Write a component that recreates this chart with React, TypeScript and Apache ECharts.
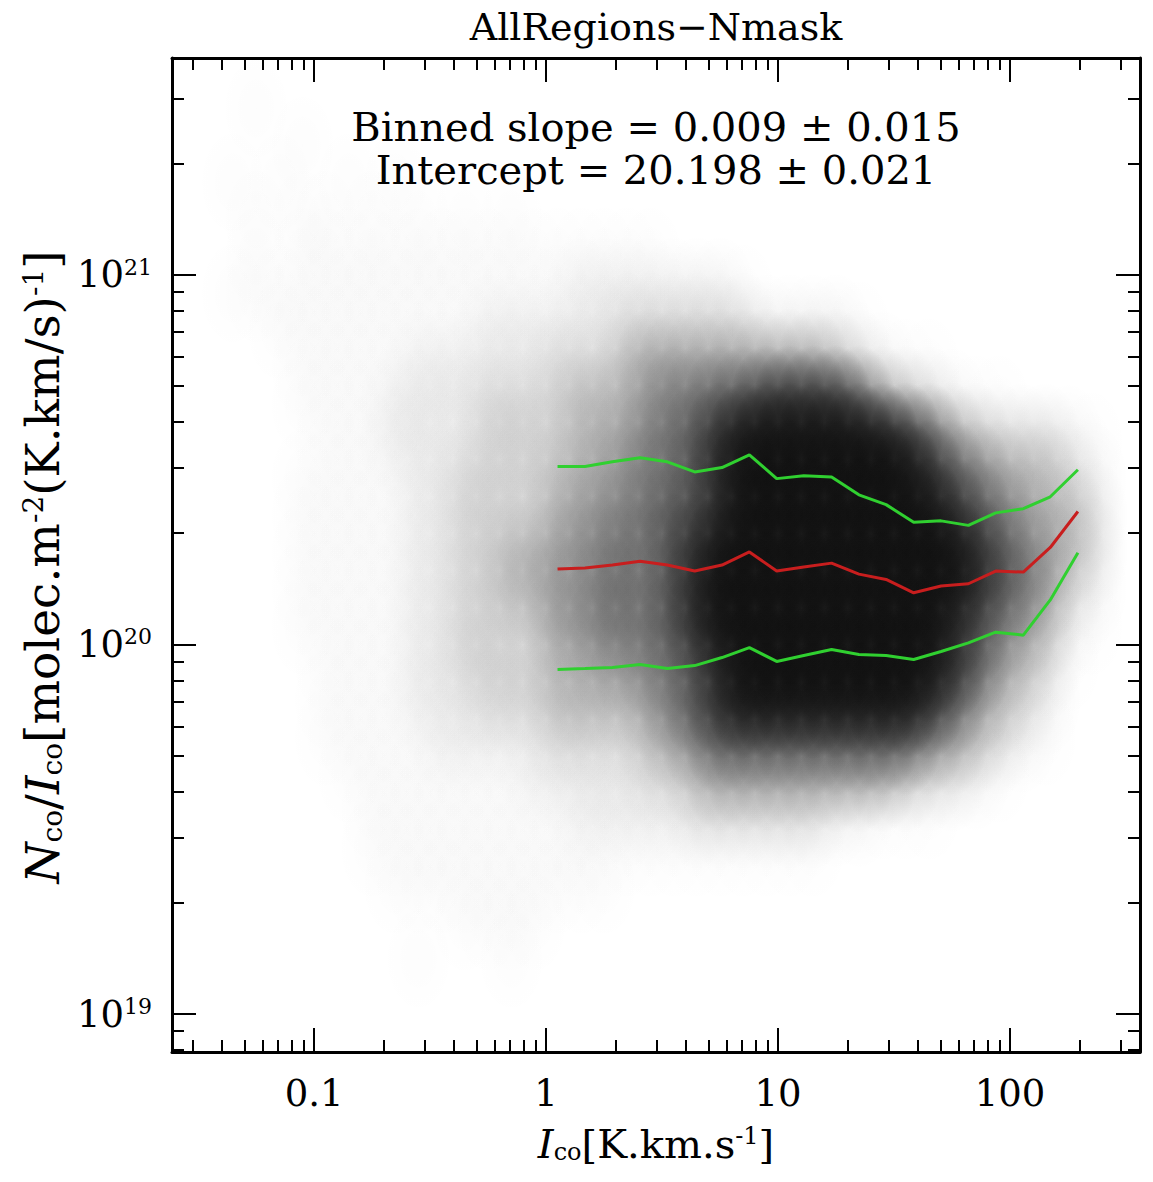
import React, { useEffect, useRef } from "react";
import * as echarts from "echarts";

// ---------- texts ----------
const chartTitle = "AllRegions−Nmask";
const fitText = ["Binned slope = 0.009 ± 0.015", "Intercept = 20.198 ± 0.021"];

// ---------- axis limits & ticks (real units) ----------
const xLimits = [0.0244, 363];
const yLimits = [7.9e18, 3.86e21];
const xMajorTicks = [0.1, 1, 10, 100];
const xMajorLabels = ["0.1", "1", "10", "100"];
const yMajorTicks = [1e19, 1e20, 1e21];
const yMajorExponents = ["19", "20", "21"];
const minorMultipliers = [2, 3, 4, 5, 6, 7, 8, 9];

// ---------- binned curves (I_co in K km/s, ratio in units of 1e20) ----------
const ratioUnit = 1e20;
const binIco = [1.12, 1.47, 1.93, 2.54, 3.33, 4.37, 5.73, 7.52, 9.86, 12.9, 17.0, 22.3, 29.2, 38.4, 50.4, 66.1, 86.7, 114, 149, 196];
const upperRatio = [3.03, 3.03, 3.12, 3.2, 3.12, 2.93, 3.01, 3.26, 2.81, 2.86, 2.84, 2.54, 2.39, 2.14, 2.16, 2.1, 2.27, 2.33, 2.51, 2.97];
const medianRatio = [1.6, 1.61, 1.64, 1.68, 1.64, 1.58, 1.64, 1.78, 1.58, 1.62, 1.66, 1.55, 1.5, 1.38, 1.44, 1.46, 1.58, 1.57, 1.83, 2.29];
const lowerRatio = [0.856, 0.861, 0.867, 0.883, 0.861, 0.877, 0.922, 0.981, 0.9, 0.934, 0.969, 0.94, 0.934, 0.911, 0.957, 1.01, 1.08, 1.06, 1.32, 1.77];

// ---------- pixel-cloud density (levels 0..9, 0.1 dex cells) ----------
const densityLogIco = [-1.55, -1.45, -1.35, -1.25, -1.15, -1.05, -0.95, -0.85, -0.75, -0.65, -0.55, -0.45, -0.35, -0.25, -0.15, -0.05, 0.05, 0.15, 0.25, 0.35, 0.45, 0.55, 0.65, 0.75, 0.85, 0.95, 1.05, 1.15, 1.25, 1.35, 1.45, 1.55, 1.65, 1.75, 1.85, 1.95, 2.05, 2.15, 2.25, 2.35, 2.45, 2.55];
const densityLogRatio = [21.55, 21.45, 21.35, 21.25, 21.15, 21.05, 20.95, 20.85, 20.75, 20.65, 20.55, 20.45, 20.35, 20.25, 20.15, 20.05, 19.95, 19.85, 19.75, 19.65, 19.55, 19.45, 19.35, 19.25, 19.15, 19.05, 18.95];
const densityRows = [
  "0000000000 0000000000 0000000000 0000000000 00",
  "0001000000 0000000000 0000000000 0000000000 00",
  "0000010000 0000000000 0000000000 0000000000 00",
  "0010100101 0000000000 0000000000 0000000000 00",
  "0001011010 1010100000 0000000000 0000000000 00",
  "0001011111 1111111111 1000000000 0000000000 00",
  "0011111111 1111111222 2222100000 0000000000 00",
  "0000111111 1112222223 3333322221 0000000000 00",
  "0000011111 2222223334 5555555543 2110000000 00",
  "0000011112 2223333444 5667788887 5432110000 00",
  "0000001112 2223333445 6678999999 9875433321 00",
  "0000011111 2233334455 6678999999 9987654432 00",
  "0000011111 2233334556 6778999999 9998765443 00",
  "0000011111 2233445566 6789999999 9999876543 00",
  "0000011111 2233445566 6789999999 9999876532 00",
  "0000011111 2233335566 6789999999 9998765421 00",
  "0000001111 2233334455 6678999999 9998754310 00",
  "0000001111 2223334444 5678999999 9987543200 00",
  "0000001111 1222223333 4567777777 7765432100 00",
  "0000000111 1111122222 3345555555 5433210000 00",
  "0000000011 1111111222 2233333322 1110000000 00",
  "0000000011 1111111111 1111111100 0000000000 00",
  "0000000001 1111111110 0000000000 0000000000 00",
  "0000000000 0011110000 0000000000 0000000000 00",
  "0000000000 1000100000 0000000000 0000000000 00",
  "0000000000 0000000000 0000000000 0000000000 00",
  "0000000000 0000000000 0000000000 0000000000 00",
];
// fraction of a cell covered by dots, per level
const levelCoverage = [0, 0.03, 0.09, 0.18, 0.3, 0.42, 0.55, 0.7, 0.84, 0.93];

const FONT = "'DejaVu Serif', 'Liberation Serif', serif";
const lg = Math.log10;

// soft kernel used to paint each density cell
const KERNEL_RADIUS = 1.6; // in cells
const kernelOffsets = [0, 0.15, 0.3, 0.45, 0.6, 0.8, 1];
const kernelShape = [1, 0.93, 0.85, 0.65, 0.45, 0.22, 0];
const KERNEL_SUM = 3.06;

function minorLogs(lo: number, hi: number, d0: number, d1: number) {
  const out: number[] = [];
  for (let d = d0; d <= d1; d++) {
    for (const m of minorMultipliers) {
      const v = d + lg(m);
      if (v > lo && v < hi) out.push(v);
    }
  }
  return out;
}

function buildOption() {
  const xMin = lg(xLimits[0]);
  const xMax = lg(xLimits[1]);
  const yMin = lg(yLimits[0]);
  const yMax = lg(yLimits[1]);
  const xMajor = xMajorTicks.map(lg);
  const yMajor = yMajorTicks.map(lg);
  const xMinor = minorLogs(xMin, xMax, -2, 2);
  const yMinor = minorLogs(yMin, yMax, 18, 21);

  const densityData: number[][] = [];
  densityRows.forEach((row, r) => {
    const s = row.replace(/\s/g, "");
    for (let c = 0; c < s.length; c++) {
      const lvl = +s[c];
      if (lvl > 0) densityData.push([densityLogIco[c], densityLogRatio[r], lvl]);
    }
  });

  const gradients = levelCoverage.map((t) => {
    const tau = -Math.log(1 - t) / KERNEL_SUM;
    return new echarts.graphic.RadialGradient(
      0.5,
      0.5,
      0.5,
      kernelOffsets.map((o, i) => ({ offset: o, color: `rgba(0,0,0,${(1 - Math.exp(-tau * kernelShape[i])).toFixed(4)})` }))
    );
  });

  const lineOf = (vals: number[]) => binIco.map((v, i) => [lg(v), lg(vals[i] * ratioUnit)]);

  const axisLine = { show: true, onZero: false, lineStyle: { color: "#000", width: 3 } };
  const noLine = { show: false, onZero: false };
  const majorTick = (vals: number[]) => ({ show: true, inside: true, length: 24, lineStyle: { color: "#000", width: 2 }, customValues: vals });
  const minorTick = (vals: number[]) => ({ show: true, inside: true, length: 12, lineStyle: { color: "#000", width: 2 }, customValues: vals });

  const xBase = { type: "value", min: xMin, max: xMax, gridIndex: 0, splitLine: { show: false }, axisLabel: { show: false }, axisPointer: { show: false } };
  const yBase = { type: "value", min: yMin, max: yMax, gridIndex: 0, splitLine: { show: false }, axisLabel: { show: false }, axisPointer: { show: false } };

  const xLabelFmt = (v: number) => {
    const i = xMajor.findIndex((t) => Math.abs(t - v) < 1e-6);
    return i >= 0 ? xMajorLabels[i] : "";
  };
  const yLabelFmt = (v: number) => {
    const i = yMajor.findIndex((t) => Math.abs(t - v) < 1e-6);
    return i >= 0 ? `{b|10}{s|${yMajorExponents[i]}}` : "";
  };

  return {
    animation: false,
    backgroundColor: "#fff",
    grid: { left: 172, right: 13, top: 58, bottom: 130, containLabel: false },
    xAxis: [
      {
        ...xBase,
        position: "bottom",
        axisLine,
        axisTick: majorTick(xMajor),
        axisLabel: { show: true, customValues: xMajor, formatter: xLabelFmt, margin: 23, fontSize: 37, fontFamily: FONT, color: "#000" },
        name: "{i|I}{sub|co}{t|[K.km.s}{sup|-1}{t|]}",
        nameLocation: "middle",
        nameGap: 72,
        nameTextStyle: {
          fontFamily: FONT,
          fontSize: 40,
          color: "#000",
          rich: {
            i: { fontFamily: FONT, fontSize: 40, fontStyle: "italic", color: "#000" },
            sub: { fontFamily: FONT, fontSize: 24, verticalAlign: "bottom", color: "#000" },
            t: { fontFamily: FONT, fontSize: 40, color: "#000" },
            sup: { fontFamily: FONT, fontSize: 24, verticalAlign: "top", color: "#000" },
          },
        },
      },
      { ...xBase, position: "bottom", axisLine: noLine, axisTick: minorTick(xMinor) },
      { ...xBase, position: "top", axisLine, axisTick: majorTick(xMajor) },
      { ...xBase, position: "top", axisLine: noLine, axisTick: minorTick(xMinor) },
    ],
    yAxis: [
      {
        ...yBase,
        position: "left",
        axisLine,
        axisTick: majorTick(yMajor),
        axisLabel: {
          show: true,
          customValues: yMajor,
          formatter: yLabelFmt,
          margin: 20,
          color: "#000",
          rich: {
            b: { fontFamily: FONT, fontSize: 37, color: "#000" },
            s: { fontFamily: FONT, fontSize: 22, verticalAlign: "top", color: "#000" },
          },
        },
        name: "{i|N}{sub|co}{t|/}{i|I}{sub|co}{t|[molec.m}{sup|-2}{t|(K.km/s)}{sup|-1}{t|]}",
        nameLocation: "middle",
        nameRotate: 90,
        nameGap: 96,
        nameTextStyle: {
          fontFamily: FONT,
          fontSize: 47,
          color: "#000",
          padding: [0, 24, 0, 0],
          rich: {
            i: { fontFamily: FONT, fontSize: 47, fontStyle: "italic", color: "#000" },
            sub: { fontFamily: FONT, fontSize: 28, verticalAlign: "bottom", color: "#000" },
            t: { fontFamily: FONT, fontSize: 47, color: "#000" },
            sup: { fontFamily: FONT, fontSize: 28, verticalAlign: "top", color: "#000" },
          },
        },
      },
      { ...yBase, position: "left", axisLine: noLine, axisTick: minorTick(yMinor) },
      { ...yBase, position: "right", axisLine, axisTick: majorTick(yMajor) },
      { ...yBase, position: "right", axisLine: noLine, axisTick: minorTick(yMinor) },
    ],
    graphic: [
      { type: "text", x: 656, y: 27, style: { text: chartTitle, fontFamily: FONT, fontSize: 38, fill: "#000", textAlign: "center", textVerticalAlign: "middle" } },
      {
        type: "text",
        x: 656,
        y: 148.5,
        z: 100,
        style: { text: fitText.join("\n"), fontFamily: FONT, fontSize: 40, lineHeight: 43, fill: "#000", textAlign: "center", textVerticalAlign: "middle" },
      },
    ],
    series: [
      {
        type: "custom",
        name: "pixels",
        xAxisIndex: 0,
        yAxisIndex: 0,
        clip: true,
        silent: true,
        z: 1,
        encode: { x: 0, y: 1 },
        data: densityData,
        renderItem: (params: any, api: any) => {
          const p = api.coord([api.value(0), api.value(1)]);
          const s = api.size([0.1, 0.1]);
          const lvl = api.value(2);
          return {
            type: "ellipse",
            shape: { cx: p[0], cy: p[1], rx: s[0] * KERNEL_RADIUS, ry: s[1] * KERNEL_RADIUS },
            style: { fill: gradients[lvl] },
          };
        },
      },
      { type: "line", name: "upper", data: lineOf(upperRatio), symbol: "none", silent: true, z: 5, lineStyle: { color: "#30d030", width: 3 } },
      { type: "line", name: "median", data: lineOf(medianRatio), symbol: "none", silent: true, z: 5, lineStyle: { color: "#c81e1e", width: 3 } },
      { type: "line", name: "lower", data: lineOf(lowerRatio), symbol: "none", silent: true, z: 5, lineStyle: { color: "#30d030", width: 3 } },
    ],
  };
}

export default function App() {
  const ref = useRef<HTMLDivElement>(null);
  useEffect(() => {
    if (!ref.current) return;
    const chart = echarts.init(ref.current, undefined, { renderer: "svg" });
    chart.setOption(buildOption() as any);
    return () => chart.dispose();
  }, []);
  return <div ref={ref} style={{ position: "absolute", left: 0, top: 0, width: 1153, height: 1182, background: "#fff" }} />;
}
